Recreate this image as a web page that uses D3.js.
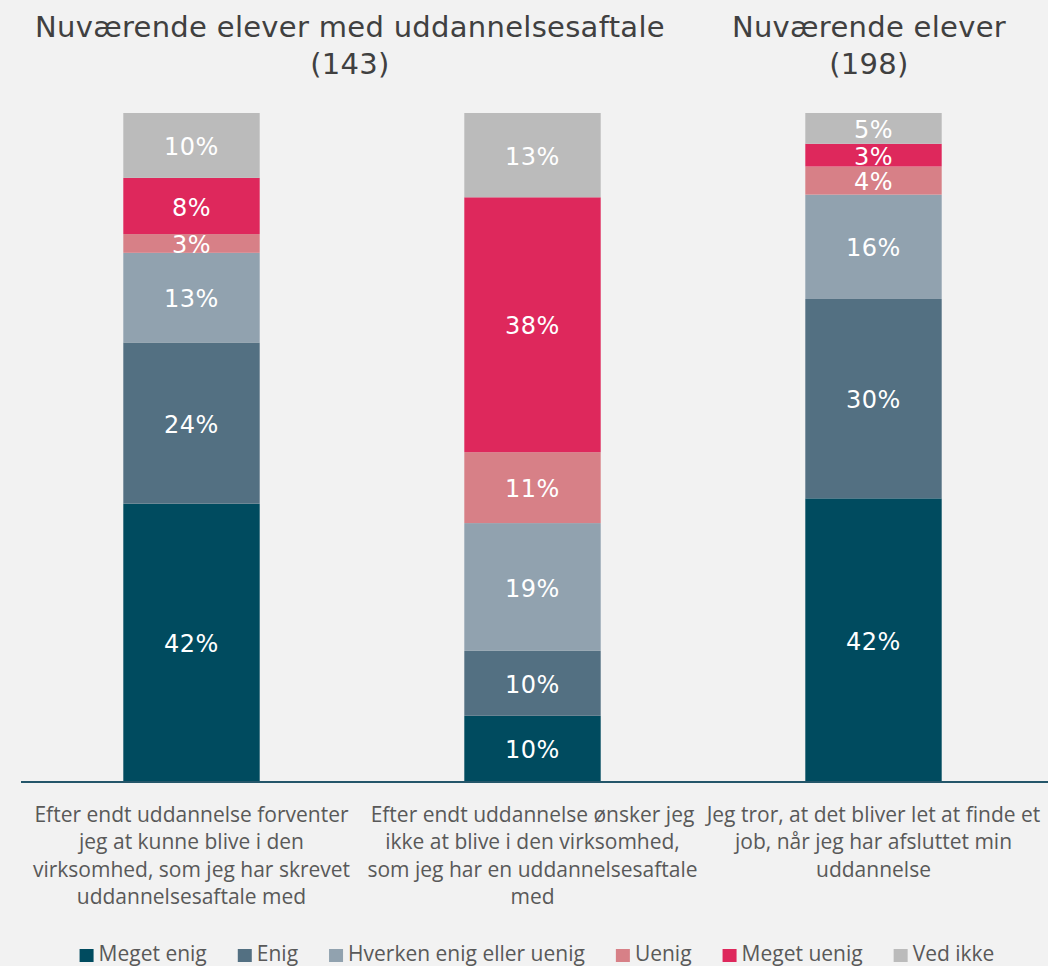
<!DOCTYPE html>
<html>
<head>
<meta charset="utf-8">
<script src="https://cdn.jsdelivr.net/npm/d3@7"></script>
<style>
  html, body { margin: 0; padding: 0; background: #f2f2f2; }
  svg { display: block; }
</style>
</head>
<body>
<div id="chart"></div>
<script>
// categories (x axis), each wrapped as in the original
const categories = [
  "Efter endt uddannelse forventer jeg at kunne blive i den virksomhed, som jeg har skrevet uddannelsesaftale med",
  "Efter endt uddannelse ønsker jeg ikke at blive i den virksomhed, som jeg har en uddannelsesaftale med",
  "Jeg tror, at det bliver let at finde et job, når jeg har afsluttet min uddannelse"
];
const categoryLines = [
  ["Efter endt uddannelse forventer", "jeg at kunne blive i den", "virksomhed, som jeg har skrevet", "uddannelsesaftale med"],
  ["Efter endt uddannelse ønsker jeg", "ikke at blive i den virksomhed,", "som jeg har en uddannelsesaftale", "med"],
  ["Jeg tror, at det bliver let at finde et", "job, når jeg har afsluttet min", "uddannelse"]
];

// answer series, bottom to top
const series = ["Meget enig", "Enig", "Hverken enig eller uenig", "Uenig", "Meget uenig", "Ved ikke"];
const seriesColors = ["#004b5f", "#537082", "#91a2af", "#d78087", "#de285c", "#bbbbbb"];

// shares in % per category (order = series)
const meget_enig  = [41.6, 9.9, 42.4];
const enig        = [24.1, 9.7, 29.8];
const hverken     = [13.4, 19.1, 15.6];
const uenig       = [2.8, 10.6, 4.2];
const meget_uenig = [8.4, 38.1, 3.4];
const ved_ikke    = [9.7, 12.6, 4.6];

// group headings
const groupTitles = [
  { lines: ["Nuværende elever med uddannelsesaftale", "(143)"], x: 350 },
  { lines: ["Nuværende elever", "(198)"], x: 869 }
];

const width = 1048, height = 966;

const rows = categories.map((c, i) => ({
  cat: c,
  "Meget enig": meget_enig[i],
  "Enig": enig[i],
  "Hverken enig eller uenig": hverken[i],
  "Uenig": uenig[i],
  "Meget uenig": meget_uenig[i],
  "Ved ikke": ved_ikke[i]
}));

const stacked = d3.stack().keys(series).offset(d3.stackOffsetExpand)(rows);

const x = d3.scaleBand().domain(categories).range([21, 1044])
  .paddingInner(0.6).paddingOuter(0.3);
const y = d3.scaleLinear().domain([0, 1]).range([782, 113]);
const color = d3.scaleOrdinal().domain(series).range(seriesColors);

const svg = d3.select("#chart").append("svg")
  .attr("width", width)
  .attr("height", height);

svg.append("rect").attr("width", width).attr("height", height).attr("fill", "#f2f2f2");

// bars
const layer = svg.append("g").selectAll("g")
  .data(stacked)
  .join("g")
    .attr("fill", d => color(d.key));

layer.selectAll("rect")
  .data(d => d.map(v => Object.assign(v, { key: d.key })))
  .join("rect")
    .attr("x", d => x(d.data.cat))
    .attr("y", d => y(d[1]))
    .attr("width", x.bandwidth())
    .attr("height", d => y(d[0]) - y(d[1]));

// value labels
layer.selectAll("text")
  .data(d => d)
  .join("text")
    .attr("x", d => x(d.data.cat) + x.bandwidth() / 2)
    .attr("y", d => (y(d[0]) + y(d[1])) / 2)
    .attr("dy", "0.4em")
    .attr("text-anchor", "middle")
    .attr("fill", "#ffffff")
    .style("font-family", "'DejaVu Sans', Verdana, sans-serif")
    .style("font-size", "24px")
    .style("letter-spacing", "0.5px")
    .text(d => Math.round(d.data[d.key]) + "%");

// x axis baseline
const xAxis = svg.append("g")
  .attr("transform", "translate(0,782)")
  .call(d3.axisBottom(x).tickSize(0).tickFormat(""));
xAxis.select(".domain").attr("stroke", "#24566a").attr("stroke-width", 2)
  .attr("d", "M21,0H1048");

// category labels
const catG = svg.append("g");
categories.forEach((c, i) => {
  const t = catG.append("text")
    .attr("text-anchor", "middle")
    .attr("fill", "#595959")
    .style("font-family", "'Open Sans', sans-serif")
    .style("font-size", "21px");
  categoryLines[i].forEach((line, j) => {
    t.append("tspan")
      .attr("x", x(c) + x.bandwidth() / 2)
      .attr("y", 822 + j * 27.4)
      .text(line);
  });
});

// group titles
groupTitles.forEach(g => {
  const t = svg.append("text")
    .attr("text-anchor", "middle")
    .attr("fill", "#404040")
    .style("font-family", "'DejaVu Sans', Verdana, sans-serif")
    .style("font-size", "29px")
    .style("letter-spacing", "0.3px");
  g.lines.forEach((line, j) => {
    t.append("tspan").attr("x", g.x).attr("y", 37 + j * 37).text(line);
  });
});

// legend
const legend = svg.append("g");
const items = legend.selectAll("g")
  .data(series)
  .join("g");
items.append("rect")
  .attr("width", 14).attr("height", 13)
  .attr("y", 949)
  .attr("fill", d => color(d));
items.append("text")
  .attr("x", 19)
  .attr("y", 961)
  .attr("fill", "#595959")
  .style("font-family", "'Open Sans', sans-serif")
  .style("font-size", "21px")
  .text(d => d);

let pos = 0;
const gap = 31;
const offsets = [];
items.each(function () {
  const w = 19 + d3.select(this).select("text").node().getComputedTextLength();
  offsets.push(pos);
  pos += w + gap;
});
const total = pos - gap;
const start = 537 - total / 2;
items.attr("transform", (d, i) => `translate(${start + offsets[i]},0)`);
</script>
</body>
</html>
